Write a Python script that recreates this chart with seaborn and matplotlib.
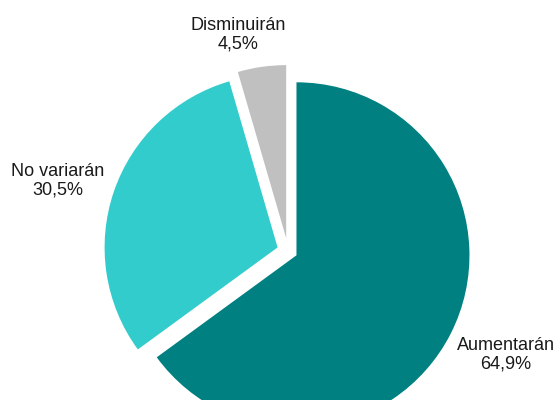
import matplotlib
matplotlib.use("Agg")
import matplotlib.pyplot as plt
import seaborn as sns

# datos del grafico
categorias = ['Aumentarán', 'No variarán', 'Disminuirán']
valores = [64.9, 30.5, 4.5]
colores = ['#008080', '#33CCCC', '#C0C0C0']

sns.set_theme(style='white')
plt.rcParams['font.family'] = ['Liberation Sans', 'DejaVu Sans']

fig = plt.figure(figsize=(5.57, 4.0), dpi=100)
ax = fig.add_axes([0, 0, 1, 1])

# pie en coordenadas de pixel (explode en pixeles)
wedges, _ = ax.pie(valores, colors=colores, startangle=90, counterclock=False,
                   center=(288, 149), radius=173, explode=[9.5, 11, 13],
                   wedgeprops=dict(linewidth=0))
ax.set_xlim(0, 557)
ax.set_ylim(0, 400)
ax.set_aspect('equal')
ax.axis('off')

# etiquetas
pos_etiquetas = [(506, 45), (58, 219), (238, 365)]
for cat, val, (x, y) in zip(categorias, valores, pos_etiquetas):
    txt = f'{cat}\n{val:.1f}%'.replace('.', ',')
    ax.text(x, y, txt, ha='center', va='center', fontsize=13, color='#1a1a1a',
            linespacing=1.15)

fig.savefig('out.png', dpi=100)
